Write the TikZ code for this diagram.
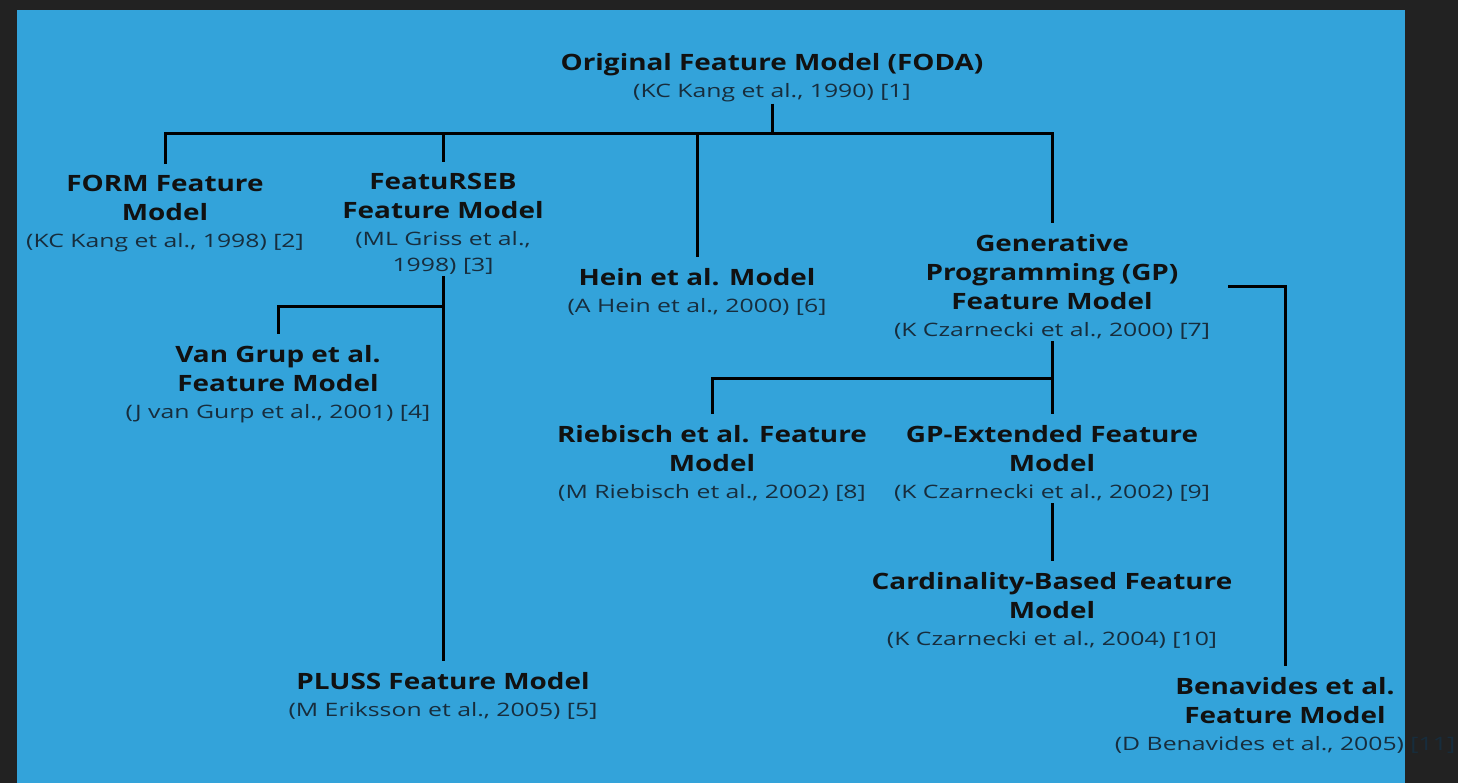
\documentclass[tikz,border=0pt]{standalone}
\usepackage{fontspec}
\setmainfont{Open Sans}
\newfontfamily\headfam[FakeStretch=1.24]{Open Sans}
\newfontfamily\citefam[FakeStretch=1.34]{Open Sans}
\definecolor{panel}{HTML}{33A3DA}
\definecolor{frame}{HTML}{222222}
\definecolor{ink}{HTML}{111111}
\definecolor{citeink}{HTML}{172D3D}
\newcommand{\headfont}{\headfam\fontsize{22.5}{29}\selectfont\bfseries}
\newcommand{\citefont}[1]{{\citefam\fontsize{18.5}{26}\selectfont\mdseries\color{citeink}#1}}
\begin{document}
\begin{tikzpicture}[x=1pt,y=-1pt,
  model/.style={anchor=north,align=center,inner sep=0pt,outer sep=2pt,
                font=\headfont,text=ink},
  link/.style={draw=black,line width=3pt},
  gapstart/.style={shorten <=9pt},
  gapend/.style={shorten >=9pt}]
  % canvas
  \useasboundingbox (0,0) rectangle (1458,783);
  \fill[frame] (0,0) rectangle (1458,783);
  \fill[panel] (17,10) rectangle (1405,783);

  % feature model family
  \node[model] (foda)  at (772,51)   {Original Feature Model (FODA)\\[-2pt]\citefont{(KC Kang et al., 1990) [1]}};
  \node[model] (form)  at (165,173)  {FORM Feature\\Model\\[-2pt]\citefont{(KC Kang et al., 1998) [2]}};
  \node[model] (rseb)  at (443,171)  {FeatuRSEB\\Feature Model\\[-2pt]\citefont{(ML Griss et al.,}\\[-3pt]\citefont{1998) [3]}};
  \node[model] (hein)  at (697,266)  {Hein et al. Model\\[-2pt]\citefont{(A Hein et al., 2000) [6]}};
  \node[model] (gp)    at (1052,232) {Generative\\Programming (GP)\\Feature Model\\[-2pt]\citefont{(K Czarnecki et al., 2000) [7]}};
  \node[model] (vg)    at (278,343)  {Van Grup et al.\\Feature Model\\[-2pt]\citefont{(J van Gurp et al., 2001) [4]}};
  \node[model] (pluss) at (443,670)  {PLUSS Feature Model\\[-2pt]\citefont{(M Eriksson et al., 2005) [5]}};
  \node[model] (rieb)  at (712,423)  {Riebisch et al. Feature\\Model\\[-2pt]\citefont{(M Riebisch et al., 2002) [8]}};
  \node[model] (gpx)   at (1052,423) {GP-Extended Feature\\Model\\[-2pt]\citefont{(K Czarnecki et al., 2002) [9]}};
  \node[model] (card)  at (1052,570) {Cardinality-Based Feature\\Model\\[-2pt]\citefont{(K Czarnecki et al., 2004) [10]}};
  \node[model] (bena)  at (1285,675) {Benavides et al.\\Feature Model\\[-2pt]\citefont{(D Benavides et al., 2005) [11]}};

  % junctions
  \coordinate (bus)   at (772,134);
  \coordinate (rsebj) at (443,307);
  \coordinate (gpj)   at (1052,378);

  % connectors
  \draw[link] (foda.south) -- (bus);
  \draw[link,gapstart,gapend] (form.north) |- (bus) -| (gp.north);
  \draw[link,gapstart] (rseb.north) -- (rseb.north |- bus);
  \draw[link,gapstart] (hein.north) -- (hein.north |- bus);
  \draw[link,gapend] (rseb.south) -- (pluss.north);
  \draw[link,gapstart] (vg.north) |- (rsebj);
  \draw[link,gapend] (gp.south) -- (gpx.north);
  \draw[link,gapstart] (rieb.north) |- (gpj);
  \draw[link,gapend] (gpx.south) -- (card.north);
  \draw[link,gapend] ([xshift=16pt]gp.east) -| (bena.north);
\end{tikzpicture}
\end{document}
